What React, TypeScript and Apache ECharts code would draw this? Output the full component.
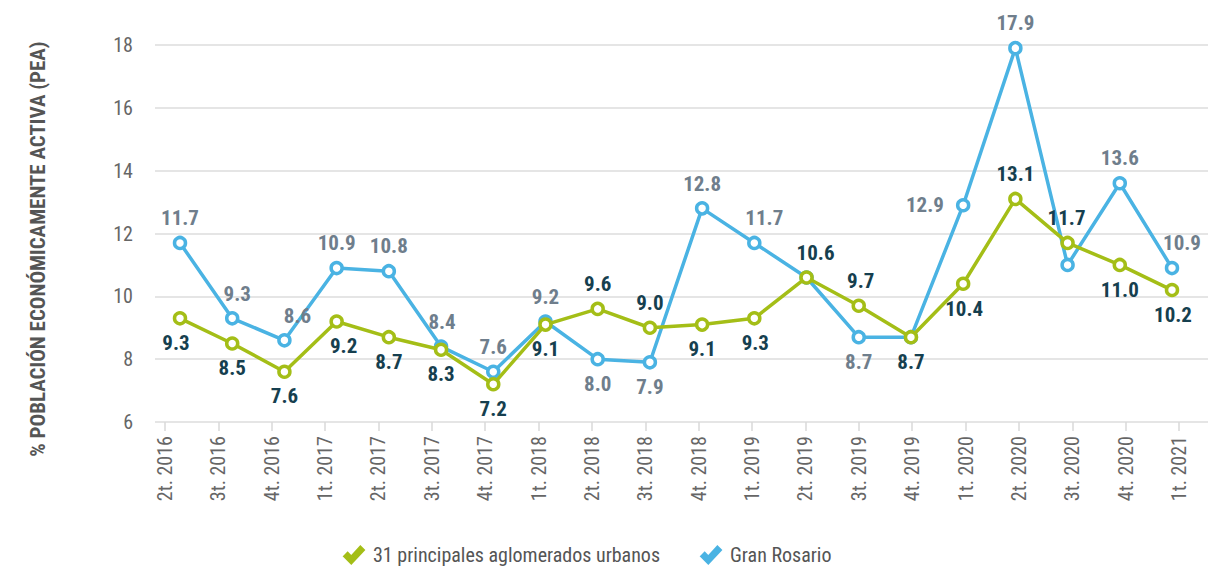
import React, { useEffect, useRef } from "react";
import * as echarts from "echarts";

const categories = [
  "2t. 2016", "3t. 2016", "4t. 2016", "1t. 2017", "2t. 2017", "3t. 2017", "4t. 2017",
  "1t. 2018", "2t. 2018", "3t. 2018", "4t. 2018", "1t. 2019", "2t. 2019", "3t. 2019",
  "4t. 2019", "1t. 2020", "2t. 2020", "3t. 2020", "4t. 2020", "1t. 2021",
];
const aglomerados = [9.3, 8.5, 7.6, 9.2, 8.7, 8.3, 7.2, 9.1, 9.6, 9.0, 9.1, 9.3, 10.6, 9.7, 8.7, 10.4, 13.1, 11.7, 11.0, 10.2];
const granRosario = [11.7, 9.3, 8.6, 10.9, 10.8, 8.4, 7.6, 9.2, 8.0, 7.9, 12.8, 11.7, 10.6, 8.7, 8.7, 12.9, 17.9, 11.0, 13.6, 10.9];
const yTicks = { min: 6, max: 18, interval: 2 };

// label placement: t = top, b = bottom, l = left, n = none
const greenPos = ["b", "b", "b", "b", "b", "b", "b", "b", "t", "t", "b", "b", "t", "t", "b", "b", "t", "t", "b", "b"];
const greenDx = [-4, 0, 0, 7, 0, 0, 0, 0, 0, 0, 0, 1, 9, 2, 0, 1, 0, -1, 0, 1];
const bluePos = ["t", "t", "t", "t", "t", "t", "t", "t", "b", "b", "t", "t", "n", "b", "n", "l", "t", "n", "t", "t"];
const blueDx = [0, 5, 13, 0, 0, 1, 0, 0, 0, 0, 0, 10, 0, 0, 0, 0, 0, 0, 0, 10];

const FONT = "'Roboto Condensed','Liberation Sans Narrow','DejaVu Sans Condensed',Roboto,sans-serif";
const GREEN = "#a4be17";
const BLUE = "#4ab3e3";
const CHECK = "path://M0,11 L4,7 L8,11 L18,0 L22,4 L8,19 Z";

function buildData(values: number[], pos: string[], dx: number[], color: string) {
  return values.map((v, i) => {
    const p = pos[i];
    if (p === "n") return { value: v, label: { show: false } };
    const position = p === "t" ? "top" : p === "b" ? "bottom" : "left";
    return {
      value: v,
      label: {
        show: true,
        position,
        distance: p === "l" ? 12 : 7,
        offset: [dx[i], 0],
        color,
        fontFamily: FONT,
        fontWeight: "bold",
        fontSize: 21,
        formatter: (prm: any) => Number(prm.value).toFixed(1),
      },
    };
  });
}

export default function App() {
  const ref = useRef<HTMLDivElement>(null);
  useEffect(() => {
    document.body.style.margin = "0";
    if (!ref.current) return;
    const chart = echarts.init(ref.current, null, { renderer: "svg" });
    const top = 45;
    const bottom = 147;
    chart.setOption({
      animation: false,
      backgroundColor: "#ffffff",
      textStyle: { fontFamily: FONT },
      grid: [
        { left: 155, right: 0, top, bottom },
        { left: 165, right: 29, top, bottom },
        { left: 180, right: 36, top, bottom },
      ],
      xAxis: [
        { gridIndex: 0, type: "value", show: false, min: 0, max: 1 },
        {
          gridIndex: 1,
          type: "category",
          data: categories,
          boundaryGap: false,
          axisLine: { show: false },
          axisTick: { show: true, length: 9, lineStyle: { color: "#d9d9d9", width: 1.5 } },
          axisLabel: { rotate: 90, fontSize: 20, color: "#666", margin: 14, fontFamily: FONT },
          splitLine: { show: false },
        },
        { gridIndex: 2, type: "category", data: categories, boundaryGap: false, show: false },
      ],
      yAxis: [
        {
          gridIndex: 0,
          type: "value",
          min: yTicks.min,
          max: yTicks.max,
          interval: yTicks.interval,
          axisLine: { show: false },
          axisTick: { show: false },
          axisLabel: { fontSize: 20, color: "#666", margin: 22, fontFamily: FONT },
          splitLine: { lineStyle: { color: "#dcdcdc", width: 1.5 } },
        },
        { gridIndex: 1, type: "value", min: yTicks.min, max: yTicks.max, show: false, splitLine: { show: false } },
        { gridIndex: 2, type: "value", min: yTicks.min, max: yTicks.max, show: false, splitLine: { show: false } },
      ],
      legend: {
        bottom: -1,
        left: 338,
        itemWidth: 20,
        itemHeight: 18,
        itemGap: 40,
        textStyle: { fontSize: 20, color: "#555", fontFamily: FONT, padding: [0, 0, 0, 4] },
        data: [
          { name: "31 principales aglomerados urbanos", icon: CHECK, itemStyle: { color: GREEN } },
          { name: "Gran Rosario", icon: CHECK, itemStyle: { color: BLUE } },
        ],
      },
      graphic: [
        {
          type: "text",
          x: 38,
          y: 249,
          rotation: Math.PI / 2,
          style: {
            text: "% POBLACIÓN ECONÓMICAMENTE ACTIVA (PEA)",
            fontFamily: FONT,
            fontWeight: "bold",
            fontSize: 21,
            fill: "#555",
            align: "center",
            verticalAlign: "middle",
          },
        },
      ],
      series: [
        {
          name: "Gran Rosario",
          type: "line",
          xAxisIndex: 2,
          yAxisIndex: 2,
          data: buildData(granRosario, bluePos, blueDx, "#6f7e8c"),
          symbol: "circle",
          symbolSize: 11,
          lineStyle: { color: BLUE, width: 3.5 },
          itemStyle: { color: "#ffffff", borderColor: BLUE, borderWidth: 3.5 },
          z: 2,
        },
        {
          name: "31 principales aglomerados urbanos",
          type: "line",
          xAxisIndex: 2,
          yAxisIndex: 2,
          data: buildData(aglomerados, greenPos, greenDx, "#163f4f"),
          symbol: "circle",
          symbolSize: 11,
          lineStyle: { color: GREEN, width: 3.5 },
          itemStyle: { color: "#ffffff", borderColor: GREEN, borderWidth: 3.5 },
          z: 3,
        },
      ],
    });
    return () => chart.dispose();
  }, []);
  return <div ref={ref} style={{ width: 1208, height: 569 }} />;
}
